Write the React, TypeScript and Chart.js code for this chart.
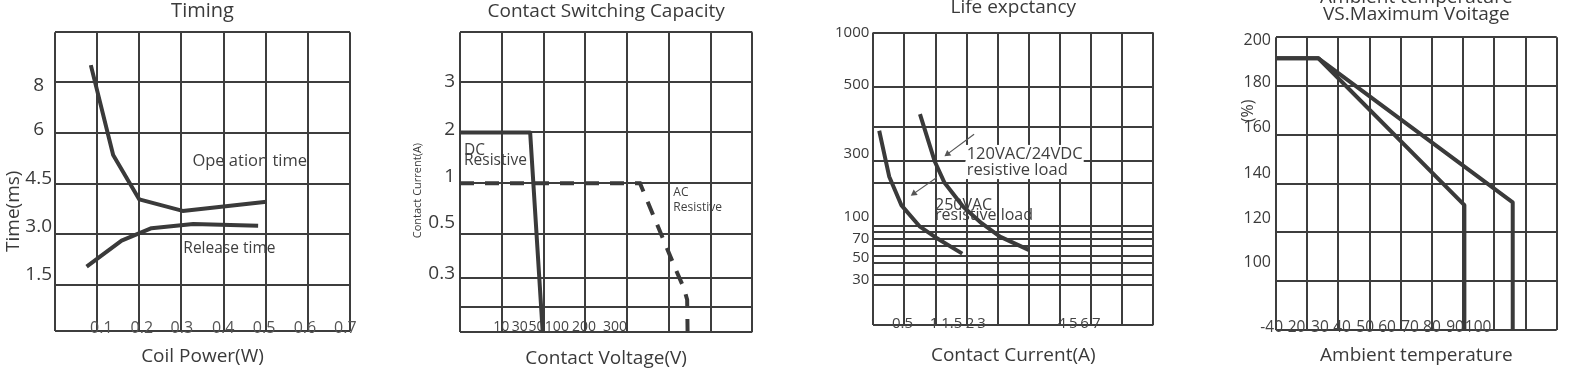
import React, { useEffect, useRef } from 'react';
import { Chart, registerables } from 'chart.js';

Chart.register(...registerables);

const FONT = "'Open Sans', 'DejaVu Sans', sans-serif";
const INK = '#3a3a3a';
const GRID = '#3d3d3d';
const PAGE_W = 1571;
const PAGE_H = 370;

// ---------------- Timing ----------------
const timingGridX = [0, 0.1, 0.2, 0.3, 0.4, 0.5, 0.6, 0.7];
const timingGridY = [0.14, 1.5, 3, 4.5, 6, 7.5, 8.97];
const timingXLabels = ['0.1', '0.2', '0.3', '0.4', '0.5', '0.6', '0.7'];
const timingXLabelAt = [0.11, 0.206, 0.301, 0.399, 0.496, 0.593, 0.689];
const timingYLabels = ['1.5', '3.0', '4.5', '6', '8'];
const timingYLabelAt = [1.8, 3.22, 4.66, 6.08, 7.38];
const operationPower = [0.085, 0.138, 0.2, 0.303, 0.502];
const operationTime = [8.0, 5.34, 4.03, 3.69, 3.96];
const releasePower = [0.075, 0.158, 0.229, 0.328, 0.482];
const releaseTime = [2.04, 2.81, 3.18, 3.3, 3.25];

// ---------------- Contact Switching Capacity (grid units) ----------------
const switchGridX = [0, 1, 2, 3, 4, 5, 6, 7];
const switchGridY = [-0.92, -0.44, 0.13, 1, 2, 3, 4, 4.97];
const switchXLabels = ['10', '30', '50', '100', '200', '300'];
const switchXLabelAt = [0.99, 1.43, 1.83, 2.32, 2.97, 3.71];
const switchYLabels = ['0.3', '0.5', '1', '2', '3'];
const switchYLabelAt = [0.23, 1.23, 2.14, 3.05, 4.01];
const dcVoltage = [0, 1.68, 1.98];
const dcCurrent = [3, 3, -0.92];
const acVoltage = [0, 4.31, 5.19, 5.36, 5.44, 5.45];
const acCurrent = [2, 2, 0.26, -0.06, -0.29, -0.92];

// ---------------- Life expectancy (grid units) ----------------
const lifeGridX = [0, 1, 2, 3, 4, 5, 6, 7, 8, 9];
const lifeGridY = [0, 1.37, 1.71, 2.11, 2.36, 2.71, 2.95, 3.19, 3.38, 4.87, 5.61, 6.77, 8.14, 10];
const lifeXLabels = ['0.5', '1', '1.5', '2', '3', '4', '5', '6', '7'];
const lifeXLabelAt = [0.94, 1.95, 2.52, 3.11, 3.48, 6.06, 6.43, 6.79, 7.17];
const lifeYLabels = ['30', '50', '70', '100', '300', '500', '1000'];
const lifeYLabelAt = [1.54, 2.3, 2.96, 3.7, 5.87, 8.2, 10.0];
const life250Current = [0.19, 0.51, 0.9, 1.5, 1.98, 2.86];
const life250Ops = [6.64, 5.08, 4.1, 3.36, 3.01, 2.44];
const life120Current = [1.5, 1.98, 2.29, 2.89, 3.48, 4.07, 5.01];
const life120Ops = [7.21, 5.58, 4.86, 4.04, 3.48, 3.02, 2.56];
const arrow120X = [3.24, 2.39];
const arrow120Y = [6.52, 5.85];
const arrow250X = [2.04, 1.31];
const arrow250Y = [5.04, 4.5];

// ---------------- Ambient temperature vs max voltage ----------------
const ambGridX = [0, 1, 2, 3, 4, 5, 6, 7, 8, 9];
const ambGridY = [80, 100, 120, 140, 160, 180, 200];
const ambXLabels = ['-40', '20', '30', '40', '50', '60', '70', '80', '90', '100'];
const ambXLabelAt = [-0.14, 0.66, 1.41, 2.12, 2.86, 3.56, 4.3, 5.0, 5.74, 6.48];
const ambYLabels = ['100', '120', '140', '160', '180', '200'];
const ambYLabelAt = [107.7, 125.9, 144.0, 163.0, 181.5, 198.9];
const ambTempA = [0, 1.36, 6.04, 6.04];
const ambVoltA = [191.4, 191.4, 131.2, 80];
const ambTempB = [0, 1.36, 7.59, 7.59];
const ambVoltB = [191.4, 191.4, 132.3, 80];

// ---------------- helpers ----------------
const pts = (xs: number[], ys: number[]) => xs.map((x, i) => ({ x, y: ys[i] }));

const curve = (data: any[], extra: any = {}) => ({
  data,
  xAxisID: 'x',
  yAxisID: 'y',
  borderColor: INK,
  backgroundColor: INK,
  borderWidth: 4,
  pointRadius: 0,
  tension: 0,
  fill: false,
  borderJoinStyle: 'round',
  ...extra,
});

const arrow = (xs: number[], ys: number[], rot: number) =>
  curve(pts(xs, ys), {
    borderColor: '#555',
    backgroundColor: '#555',
    borderWidth: 1.2,
    pointRadius: [0, 4],
    pointStyle: 'triangle',
    pointRotation: [0, rot],
    pointBorderWidth: 0,
  });

type Note = { x: number; y: number; text: string; size: number; bg?: boolean };

const notesPlugin = (notes: Note[]) => ({
  id: 'notes',
  afterDatasetsDraw(chart: any) {
    const { ctx, scales } = chart;
    const xs = scales.x;
    const ys = scales.y;
    for (const n of notes) {
      ctx.save();
      ctx.font = `${n.size}px ${FONT}`;
      ctx.textAlign = 'left';
      ctx.textBaseline = 'middle';
      const px = xs.getPixelForValue(n.x);
      const py = ys.getPixelForValue(n.y);
      if (n.bg) {
        const w = ctx.measureText(n.text).width;
        ctx.fillStyle = '#fff';
        ctx.fillRect(px - 1, py - n.size * 0.55, w + 2, n.size * 1.1);
      }
      ctx.fillStyle = '#3f3f3f';
      ctx.fillText(n.text, px, py);
      ctx.restore();
    }
  },
});

function gridAxis(axis: 'x' | 'y', min: number, max: number, values: number[]) {
  return {
    type: 'linear',
    axis,
    position: axis === 'x' ? 'bottom' : 'left',
    min,
    max,
    weight: 0,
    afterBuildTicks: (s: any) => {
      s.ticks = values.map((v) => ({ value: v }));
    },
    afterFit: (s: any) => {
      if (axis === 'x') s.height = 0;
      else s.width = 0;
    },
    grid: { display: true, color: GRID, lineWidth: 2, drawTicks: false },
    border: { display: false },
    ticks: { display: false },
  };
}

type AxisSpec = {
  min: number;
  max: number;
  grid: number[];
  at: number[];
  labels: string[];
  size: number;
  color?: string;
  pad?: number;
  cy?: number;
  cross?: string;
  title?: string;
  titleSize?: number;
  titlePos?: number;
  titleAlign?: string;
};

type Panel = {
  title: string[];
  titleSize: number;
  titleLh: number;
  titleCy: number;
  L: number;
  R: number;
  T: number;
  B: number;
  PL: number;
  x: AxisSpec;
  y: AxisSpec;
  datasets: any[];
  notes: Note[];
};

function makeConfig(p: Panel): any {
  const tlh = p.titleSize * p.titleLh;
  const tpTop = p.titleCy - tlh / 2;
  const tpBottom = p.T - p.title.length * tlh - tpTop;
  // mirrored bottom labels: centre = top - padding - size/2
  const xLabelPad = p.B - (p.x.cy as number) - p.x.size / 2;
  const xTitleSize = p.x.titleSize || 18;
  const xTitlePad = PAGE_H - xTitleSize / 2 - (p.x.titlePos as number);
  const yTitleSize = p.y.titleSize || 16;
  const yTitlePad = p.y.title ? (p.y.titlePos as number) - p.PL - yTitleSize / 2 : 0;
  return {
    type: 'line',
    data: { datasets: p.datasets },
    options: {
      responsive: false,
      maintainAspectRatio: false,
      animation: false,
      events: [],
      layout: { padding: { left: p.PL, right: PAGE_W - p.R, top: 0, bottom: 0 } },
      plugins: {
        legend: { display: false },
        tooltip: { enabled: false },
        title: {
          display: true,
          text: p.title,
          fullSize: false,
          color: INK,
          font: { family: FONT, size: p.titleSize, lineHeight: p.titleLh, weight: 'normal' },
          padding: { top: tpTop, bottom: tpBottom },
        },
      },
      scales: {
        x: gridAxis('x', p.x.min, p.x.max, p.x.grid),
        y: gridAxis('y', p.y.min, p.y.max, p.y.grid),
        xl: {
          type: 'linear',
          axis: 'x',
          position: 'bottom',
          min: p.x.min,
          max: p.x.max,
          weight: 1,
          afterBuildTicks: (s: any) => {
            s.ticks = p.x.at.map((v) => ({ value: v }));
          },
          afterFit: (s: any) => {
            s.height = PAGE_H - p.B;
          },
          grid: { display: false, drawTicks: false },
          border: { display: false },
          ticks: {
            autoSkip: false,
            maxRotation: 0,
            minRotation: 0,
            mirror: true,
            padding: xLabelPad,
            color: p.x.color || INK,
            font: { family: FONT, size: p.x.size, lineHeight: 1 },
            callback: (_v: any, i: number) => p.x.labels[i],
          },
          title: {
            display: !!p.x.title,
            text: p.x.title,
            color: INK,
            font: { family: FONT, size: xTitleSize, lineHeight: 1 },
            padding: { top: 0, bottom: xTitlePad },
          },
        },
        yl: {
          type: 'linear',
          axis: 'y',
          position: 'left',
          min: p.y.min,
          max: p.y.max,
          weight: 1,
          afterBuildTicks: (s: any) => {
            s.ticks = p.y.at.map((v) => ({ value: v }));
          },
          afterFit: (s: any) => {
            s.width = p.L - p.PL;
          },
          grid: { display: false, drawTicks: false },
          border: { display: false },
          ticks: {
            autoSkip: false,
            padding: p.y.pad || 4,
            crossAlign: p.y.cross || 'near',
            color: p.y.color || INK,
            font: { family: FONT, size: p.y.size, lineHeight: 1 },
            callback: (_v: any, i: number) => p.y.labels[i],
          },
          title: {
            display: !!p.y.title,
            text: p.y.title,
            align: p.y.titleAlign || 'center',
            color: INK,
            font: { family: FONT, size: yTitleSize, lineHeight: 1 },
            padding: { top: yTitlePad, bottom: 0 },
          },
        },
      },
    },
    plugins: [notesPlugin(p.notes)],
  };
}

const panels: Panel[] = [
  {
    title: ['Timing'],
    titleSize: 20,
    titleLh: 1,
    titleCy: 11.5,
    L: 55,
    R: 350,
    T: 32.3,
    B: 331,
    PL: 3.5,
    x: {
      min: 0, max: 0.7, grid: timingGridX, at: timingXLabelAt, labels: timingXLabels,
      size: 16, cy: 328, color: '#555', title: 'Coil Power(W)', titleSize: 19, titlePos: 357,
    },
    y: {
      min: 0.14, max: 8.97, grid: timingGridY, at: timingYLabelAt, labels: timingYLabels,
      size: 19, pad: 3, cross: 'center', title: 'Time(ms)' + ' '.repeat(12), titleSize: 19, titlePos: 13.3,
    },
    datasets: [
      curve(pts(operationPower, operationTime)),
      curve(pts(releasePower, releaseTime)),
    ],
    notes: [
      { x: 0.326, y: 5.15, text: 'Ope ation time', size: 16.5 },
      { x: 0.3045, y: 2.585, text: 'Release time', size: 15.5 },
    ],
  },
  {
    title: ['Contact Switching Capacity'],
    titleSize: 19,
    titleLh: 1,
    titleCy: 11.2,
    L: 460,
    R: 752.3,
    T: 32.3,
    B: 331.7,
    PL: 412.5,
    x: {
      min: 0, max: 7, grid: switchGridX, at: switchXLabelAt, labels: switchXLabels,
      size: 14, cy: 326.7, color: '#444', title: 'Contact Voltage(V)', titleSize: 19, titlePos: 358.5,
    },
    y: {
      min: -0.92, max: 4.97, grid: switchGridY, at: switchYLabelAt, labels: switchYLabels,
      size: 19, pad: 5, title: 'Contact Current(A)' + ' '.repeat(6), titleSize: 11, titlePos: 418,
    },
    datasets: [
      curve(pts(dcVoltage, dcCurrent)),
      curve(pts(acVoltage, acCurrent), { borderDash: [14, 11], borderJoinStyle: 'miter' }),
    ],
    notes: [
      { x: 0.096, y: 2.64, text: 'DC', size: 15.5 },
      { x: 0.096, y: 2.44, text: 'Resistive', size: 15.5 },
      { x: 5.108, y: 1.823, text: 'AC', size: 12 },
      { x: 5.108, y: 1.528, text: 'Resistive', size: 12 },
    ],
  },
  {
    title: ['Life expctancy'],
    titleSize: 19,
    titleLh: 1,
    titleCy: 7.5,
    L: 873.3,
    R: 1153.3,
    T: 32.5,
    B: 325,
    PL: 830,
    x: {
      min: 0, max: 9, grid: lifeGridX, at: lifeXLabelAt, labels: lifeXLabels,
      size: 15, cy: 323.3, color: '#444', title: 'Contact Current(A)', titleSize: 19, titlePos: 356,
    },
    y: {
      min: 0, max: 10, grid: lifeGridY, at: lifeYLabelAt, labels: lifeYLabels,
      size: 15, pad: 4,
    },
    datasets: [
      curve(pts(life250Current, life250Ops)),
      curve(pts(life120Current, life120Ops)),
      arrow(arrow120X, arrow120Y, 233),
      arrow(arrow250X, arrow250Y, 235),
    ],
    notes: [
      { x: 3.0, y: 5.846, text: '120VAC/24VDC', size: 16.5, bg: true },
      { x: 3.0, y: 5.3, text: 'resistive load', size: 16.5, bg: true },
      { x: 1.983, y: 4.103, text: '250VAC', size: 16 },
      { x: 1.983, y: 3.744, text: 'resistive load', size: 16 },
    ],
  },
  {
    title: ['Ambient temperature', 'VS.Maximum Voitage'],
    titleSize: 19,
    titleLh: 0.88,
    titleCy: -2.5,
    L: 1276,
    R: 1556.7,
    T: 37.3,
    B: 330,
    PL: 1240,
    x: {
      min: 0, max: 9, grid: ambGridX, at: ambXLabelAt, labels: ambXLabels,
      size: 15.5, cy: 328, color: '#444', title: 'Ambient temperature', titleSize: 19, titlePos: 356,
    },
    y: {
      min: 80, max: 200, grid: ambGridY, at: ambYLabelAt, labels: ambYLabels,
      size: 16, pad: 5, title: '(%)' + ' '.repeat(15), titleSize: 16, titlePos: 1248, titleAlign: 'end',
    },
    datasets: [
      curve(pts(ambTempA, ambVoltA)),
      curve(pts(ambTempB, ambVoltB)),
    ],
    notes: [],
  },
];

export default function App() {
  const r0 = useRef<HTMLCanvasElement>(null);
  const r1 = useRef<HTMLCanvasElement>(null);
  const r2 = useRef<HTMLCanvasElement>(null);
  const r3 = useRef<HTMLCanvasElement>(null);
  const refs = [r0, r1, r2, r3];

  useEffect(() => {
    Chart.defaults.font.family = FONT;
    Chart.defaults.color = INK;
    const charts = panels.map((p, i) => new Chart(refs[i].current as HTMLCanvasElement, makeConfig(p)));
    return () => charts.forEach((c) => c.destroy());
  }, []);

  return (
    <div style={{ position: 'fixed', left: 0, top: 0, width: PAGE_W, height: PAGE_H, background: '#fff' }}>
      {refs.map((r, i) => (
        <canvas
          key={i}
          ref={r}
          width={PAGE_W}
          height={PAGE_H}
          style={{ position: 'absolute', left: 0, top: 0, width: PAGE_W, height: PAGE_H }}
        />
      ))}
    </div>
  );
}
